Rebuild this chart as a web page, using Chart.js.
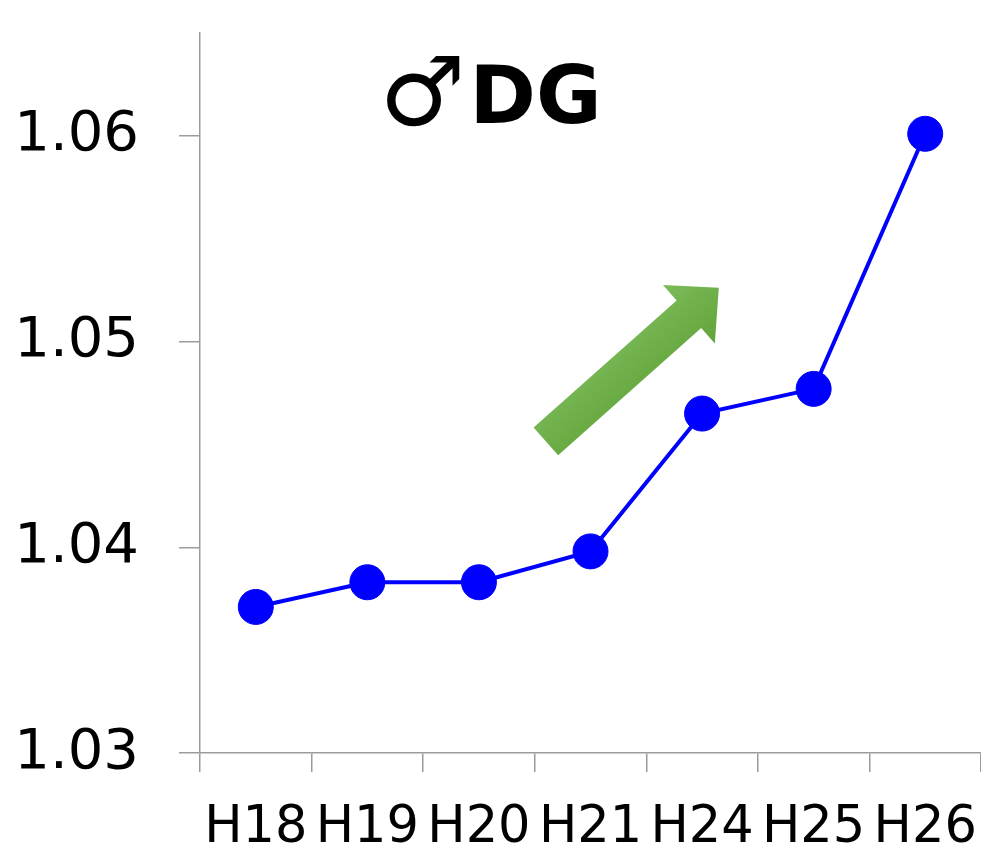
<!DOCTYPE html>
<html>
<head>
<meta charset="utf-8">
<script src="https://cdn.jsdelivr.net/npm/chart.js@4.4.1/dist/chart.umd.min.js"></script>
<style>
  html, body { margin: 0; padding: 0; background: #ffffff; }
  #wrap { width: 981px; height: 850px; position: relative; }
</style>
</head>
<body>
<div id="wrap"><canvas id="c" width="981" height="850"></canvas></div>
<script>
// Survey years (Heisei era)
const years = ['H18', 'H19', 'H20', 'H21', 'H24', 'H25', 'H26'];
// Male DG index per year
const dgMale = [1.0371, 1.0383, 1.0383, 1.0398, 1.0465, 1.0477, 1.0601];
// Values shown on the vertical axis
const yTickValues = [1.03, 1.04, 1.05, 1.06];
const titleSymbol = '♂';
const titleText = 'DG';

const AXIS_GRAY = '#9c9c9c';

// Heading drawn inside the plot, above the line
const titlePlugin = {
  id: 'innerTitle',
  afterDraw(chart) {
    const { ctx, chartArea } = chart;
    ctx.save();
    ctx.fillStyle = '#000';
    ctx.textBaseline = 'alphabetic';
    const symFont = 'bold 96px "DejaVu Sans"';
    const txtFont = 'bold 80px "DejaVu Sans"';
    ctx.font = symFont;
    const wSym = ctx.measureText(titleSymbol).width;
    ctx.font = txtFont;
    const wTxt = ctx.measureText(titleText).width;
    const gap = 4;
    const total = wSym + gap + wTxt;
    const left = chart.width / 2 - total / 2;
    const base = chartArea.top + 90;
    ctx.textAlign = 'left';
    ctx.font = symFont;
    ctx.fillText(titleSymbol, left, base + 2);
    ctx.font = txtFont;
    ctx.fillText(titleText, left + wSym + gap, base);
    ctx.restore();
  }
};

// Green trend arrow, placed in data space (category index, value)
const trendArrowPlugin = {
  id: 'trendArrow',
  afterDatasetsDraw(chart) {
    const { ctx, scales: { x, y } } = chart;
    const x0 = x.getPixelForValue(2.6), y0 = y.getPixelForValue(1.04515);
    const x1 = x.getPixelForValue(4.15), y1 = y.getPixelForValue(1.05262);
    const dx = x1 - x0, dy = y1 - y0;
    const len = Math.hypot(dx, dy);
    const ang = Math.atan2(dy, dx);
    const shaftHalf = 18.5, headHalf = 39, headLen = 40;
    ctx.save();
    ctx.translate(x0, y0);
    ctx.rotate(ang);
    const g = ctx.createLinearGradient(0, -headHalf, 0, headHalf);
    g.addColorStop(0, '#7cbb5a');
    g.addColorStop(1, '#62a43a');
    ctx.fillStyle = g;
    ctx.beginPath();
    ctx.moveTo(0, -shaftHalf);
    ctx.lineTo(len - headLen, -shaftHalf);
    ctx.lineTo(len - headLen, -headHalf);
    ctx.lineTo(len, 0);
    ctx.lineTo(len - headLen, headHalf);
    ctx.lineTo(len - headLen, shaftHalf);
    ctx.lineTo(0, shaftHalf);
    ctx.closePath();
    ctx.fill();
    ctx.restore();
  }
};

new Chart(document.getElementById('c'), {
  type: 'line',
  data: {
    labels: years,
    datasets: [{
      data: dgMale,
      borderColor: '#0000ff',
      backgroundColor: '#0000ff',
      borderWidth: 4,
      pointRadius: 17.5,
      pointHoverRadius: 17.5,
      pointBorderWidth: 1,
      pointBorderColor: '#0000ff',
      pointBackgroundColor: '#0000ff',
      tension: 0,
      fill: false,
      clip: false
    }]
  },
  options: {
    responsive: false,
    animation: false,
    events: [],
    layout: { autoPadding: false, padding: { top: 33, left: 0, right: 0, bottom: 0 } },
    plugins: {
      legend: { display: false },
      tooltip: { enabled: false },
      title: { display: false }
    },
    scales: {
      x: {
        type: 'category',
        offset: true,
        grid: {
          display: true,
          drawOnChartArea: false,
          drawTicks: true,
          tickLength: 19,
          color: AXIS_GRAY,
          lineWidth: 1.5,
          offset: true
        },
        border: { display: true, color: AXIS_GRAY, width: 1.5 },
        ticks: {
          color: '#000',
          font: { family: '"DejaVu Sans"', size: 51 },
          padding: 26,
          autoSkip: false,
          maxRotation: 0,
          minRotation: 0
        },
        afterFit(scale) {
          scale.height = 97;
          scale.paddingLeft = 0;
          scale.paddingRight = 0;
        }
      },
      y: {
        min: 1.03,
        max: 1.065,
        grid: {
          display: true,
          drawOnChartArea: false,
          drawTicks: true,
          tickLength: 21,
          color: AXIS_GRAY,
          lineWidth: 1.5
        },
        border: { display: true, color: AXIS_GRAY, width: 1.5 },
        ticks: {
          color: '#000',
          font: { family: '"DejaVu Sans"', size: 56 },
          padding: 40,
          callback: (v) => v.toFixed(2)
        },
        afterBuildTicks(scale) {
          scale.ticks = yTickValues.map(v => ({ value: v }));
        },
        afterFit(scale) {
          scale.width = 200;
          scale.paddingTop = 0;
          scale.paddingBottom = 0;
        }
      }
    }
  },
  plugins: [trendArrowPlugin, titlePlugin]
});
</script>
</body>
</html>
